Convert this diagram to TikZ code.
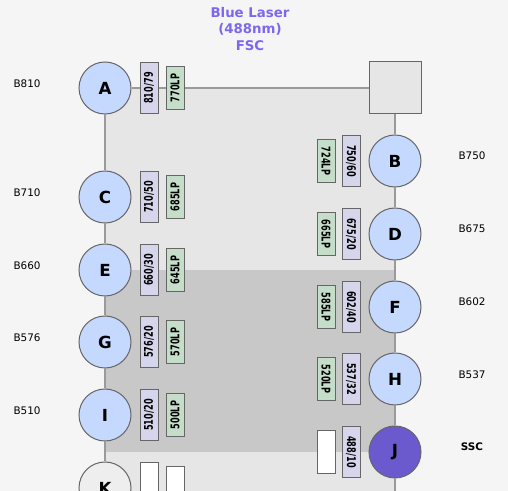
\documentclass[tikz,border=0pt]{standalone}
\usepackage{fontspec}
\setmainfont{DejaVu Sans}
\newfontfamily\filterfont[FakeStretch=0.68]{DejaVu Sans}
\usetikzlibrary{positioning}
\definecolor{bgpage}{HTML}{F5F5F5}
\definecolor{bandlight}{HTML}{E6E6E6}
\definecolor{banddark}{HTML}{C8C8C8}
\definecolor{pmtfill}{HTML}{C5D9FF}
\definecolor{sscfill}{HTML}{6A5ACD}
\definecolor{offfill}{HTML}{EEEEEE}
\definecolor{bpfill}{HTML}{D5D5EC}
\definecolor{lpfill}{HTML}{C4DEC9}
\definecolor{titlecol}{HTML}{7B68EE}
\definecolor{wirecol}{HTML}{9A9A9A}
\definecolor{edgecol}{HTML}{666666}
\tikzset{
  pmt/.style={circle, draw=edgecol, line width=0.75pt, fill=pmtfill, minimum size=39pt, inner sep=0pt,
    font=\bfseries\fontsize{12.5}{14}\selectfont},
  bpbox/.style={draw=edgecol, line width=0.75pt, fill=bpfill, minimum width=13.5pt, minimum height=38.25pt,
    inner sep=0pt, font=\filterfont\bfseries\fontsize{9}{9}\selectfont},
  lpbox/.style={bpbox, fill=lpfill, minimum height=32.25pt},
  wire/.style={draw=wirecol, line width=0.9pt},
  chanlabel/.style={font=\fontsize{7.8}{9}\selectfont}
}
\begin{document}
\begin{tikzpicture}[x=0.75pt, y=-0.75pt]
    \useasboundingbox (0,0) rectangle (508,491);
    \clip (0,0) rectangle (508,491);
    % page and shaded bands
    \fill[bgpage] (0,0) rectangle (508,491);
    \fill[bandlight] (105,88) rectangle (395,491);
    \fill[banddark] (105,270) rectangle (395,452);

    % laser title
    \node[text=titlecol, align=center, font=\bfseries\fontsize{10}{12.4}\selectfont] (laser) at (250,29)
        {Blue Laser\\(488nm)\\FSC};

    % Draw the detectors, left column
    \node[pmt] (A) at (105,88) {A};
    \node[pmt] (C) at (105,197) {C};
    \node[pmt] (E) at (105,270) {E};
    \node[pmt] (G) at (105,342) {G};
    \node[pmt] (I) at (105,415) {I};
    \node[pmt, fill=offfill] (K) at (105,488) {K};
    \coordinate (leftend) at (105,500);

    % Draw the detectors, right column
    \node[rectangle, draw=edgecol, line width=0.75pt, fill=bandlight, minimum size=39pt] (fsc) at (395,88) {};
    \node[pmt] (B) at (395,161) {B};
    \node[pmt] (D) at (395,234) {D};
    \node[pmt] (F) at (395,307) {F};
    \node[pmt] (H) at (395,379) {H};
    \node[pmt, fill=sscfill] (J) at (395,452) {J};
    \coordinate (rightend) at (395,500);

    % Draw the edges
    \draw[wire] (A) -- (fsc);
    \draw[wire] (A) -- (C) -- (E) -- (G) -- (I) -- (K) -- (leftend);
    \draw[wire] (fsc) -- (B) -- (D) -- (F) -- (H) -- (J) -- (rightend);

    % filters, left column
    \node[bpbox, right=6pt of A] (A-bp) {\rotatebox{90}{810/79}};
    \node[lpbox, right=5.25pt of A-bp] (A-lp) {\rotatebox{90}{770LP}};
    \node[bpbox, right=6pt of C] (C-bp) {\rotatebox{90}{710/50}};
    \node[lpbox, right=5.25pt of C-bp] (C-lp) {\rotatebox{90}{685LP}};
    \node[bpbox, right=6pt of E] (E-bp) {\rotatebox{90}{660/30}};
    \node[lpbox, right=5.25pt of E-bp] (E-lp) {\rotatebox{90}{645LP}};
    \node[bpbox, right=6pt of G] (G-bp) {\rotatebox{90}{576/20}};
    \node[lpbox, right=5.25pt of G-bp] (G-lp) {\rotatebox{90}{570LP}};
    \node[bpbox, right=6pt of I] (I-bp) {\rotatebox{90}{510/20}};
    \node[lpbox, right=5.25pt of I-bp] (I-lp) {\rotatebox{90}{500LP}};
    \node[bpbox, fill=white, right=6pt of K] (K-bp) {};
    \node[lpbox, fill=white, right=5.25pt of K-bp] (K-lp) {};

    % filters, right column
    \node[bpbox, left=6pt of B] (B-bp) {\rotatebox{-90}{750/60}};
    \node[lpbox, left=4.5pt of B-bp] (B-lp) {\rotatebox{-90}{724LP}};
    \node[bpbox, left=6pt of D] (D-bp) {\rotatebox{-90}{675/20}};
    \node[lpbox, left=4.5pt of D-bp] (D-lp) {\rotatebox{-90}{665LP}};
    \node[bpbox, left=6pt of F] (F-bp) {\rotatebox{-90}{602/40}};
    \node[lpbox, left=4.5pt of F-bp] (F-lp) {\rotatebox{-90}{585LP}};
    \node[bpbox, left=6pt of H] (H-bp) {\rotatebox{-90}{537/32}};
    \node[lpbox, left=4.5pt of H-bp] (H-lp) {\rotatebox{-90}{520LP}};
    \node[bpbox, left=6pt of J] (J-bp) {\rotatebox{-90}{488/10}};
    \node[lpbox, fill=white, left=4.5pt of J-bp] (J-lp) {};

    % channel labels
    \node[chanlabel] (lA) at (27,84) {B810};
    \node[chanlabel] (lC) at (27,193) {B710};
    \node[chanlabel] (lE) at (27,266) {B660};
    \node[chanlabel] (lG) at (27,338) {B576};
    \node[chanlabel] (lI) at (27,411) {B510};
    \node[chanlabel] (lB) at (472,156) {B750};
    \node[chanlabel] (lD) at (472,229) {B675};
    \node[chanlabel] (lF) at (472,302) {B602};
    \node[chanlabel] (lH) at (472,375) {B537};
    \node[chanlabel, font=\bfseries\fontsize{7.8}{9}\selectfont] (lJ) at (472,447) {SSC};
\end{tikzpicture}
\end{document}
